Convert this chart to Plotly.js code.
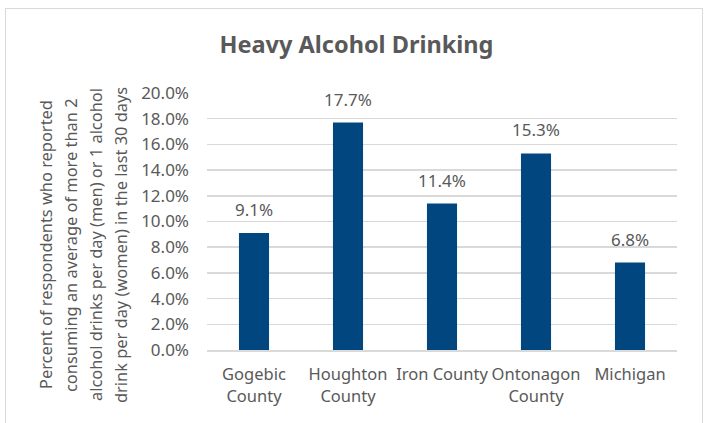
<!DOCTYPE html>
<html><head><meta charset="utf-8">
<script src="https://cdn.plot.ly/plotly-3.0.1.min.js"></script>
<style>
html,body{margin:0;padding:0;background:#fff;}
#frame{position:absolute;left:5px;top:8px;width:698px;height:430px;border:1.5px solid #d9d9d9;box-sizing:border-box;}
#chart{position:absolute;left:0;top:0;width:713px;height:423px;}
</style></head>
<body>
<div id="frame"></div>
<div id="chart"></div>
<script>
const categories = ["Gogebic<br>County", "Houghton<br>County", "Iron County", "Ontonagon<br>County", "Michigan"];
const values = [9.1, 17.7, 11.4, 15.3, 6.8];
const valueLabels = ["9.1%", "17.7%", "11.4%", "15.3%", "6.8%"];
const yTicks = [0, 2, 4, 6, 8, 10, 12, 14, 16, 18, 20];
const yTickLabels = ["0.0%", "2.0%", "4.0%", "6.0%", "8.0%", "10.0%", "12.0%", "14.0%", "16.0%", "18.0%", "20.0%"];
const titleText = "Heavy Alcohol Drinking";
const yTitleLines = [
  "Percent of respondents who reported",
  "consuming an average of more than 2",
  "alcohol drinks per day (men) or 1 alcohol",
  "drink per day (women) in the last 30 days"
];

const txt = "#595959";
const font = "'Noto Sans', 'Open Sans', sans-serif";

// layout geometry (pixels)
const W = 713, H = 423, L = 207, R = 36, T = 93, B = 73;
const pw = W - L - R, ph = H - T - B;
const titleLineX = [45, 70, 95, 120];
const titleCenterY = 245;

const annotations = categories.map((c, i) => ({
  x: c, y: values[i], xref: "x", yref: "y",
  text: valueLabels[i], showarrow: false,
  yanchor: "bottom", yshift: 10,
  font: {family: font, size: 17, color: txt}
}));
yTitleLines.forEach((line, i) => annotations.push({
  xref: "paper", yref: "paper",
  x: (titleLineX[i] - L) / pw, y: (H - B - titleCenterY) / ph,
  text: line, showarrow: false, textangle: -90,
  xanchor: "center", yanchor: "middle",
  font: {family: font, size: 16.4, color: txt}
}));

Plotly.newPlot("chart", [{
  type: "bar", x: categories, y: values,
  marker: {color: "#02467f"}, width: 0.32,
  hoverinfo: "none"
}], {
  width: W, height: H,
  margin: {l: L, r: R, t: T, b: B},
  paper_bgcolor: "rgba(0,0,0,0)", plot_bgcolor: "rgba(0,0,0,0)",
  showlegend: false,
  title: {text: "<b>" + titleText + "</b>", x: 0.5, xanchor: "center", y: 1 - 45/H, yanchor: "middle",
          font: {family: font, size: 23.5, color: txt}},
  xaxis: {type: "category", showgrid: false, zeroline: false, showline: true, linecolor: "#d9d9d9", linewidth: 1.5,
          tickfont: {family: font, size: 16.5, color: txt}, ticks: "", ticklabelstandoff: 9},
  yaxis: {range: [0, 20], tickvals: yTicks, ticktext: yTickLabels, showgrid: true, gridcolor: "#d9d9d9", gridwidth: 1.5,
          zeroline: false, showline: false, ticks: "", ticklabelstandoff: 17,
          tickfont: {family: font, size: 17, color: txt}},
  annotations: annotations
}, {staticPlot: true});
</script>
</body></html>
